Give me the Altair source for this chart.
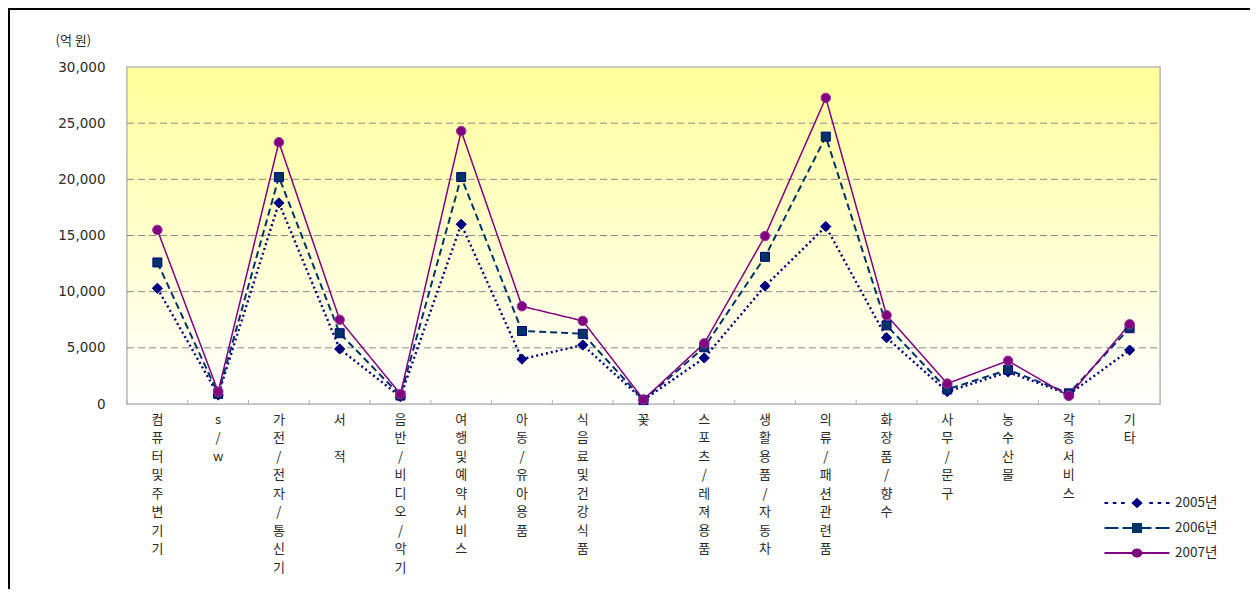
import altair as alt
import pandas as pd
import math

cats = ["컴퓨터및주변기기", "s/w", "가전/전자/통신기", "서 적", "음반/비디오/악기",
        "여행및예약서비스", "아동/유아용품", "식음료및건강식품", "꽃", "스포츠/레져용품",
        "생활용품/자동차", "의류/패션관련품", "화장품/향수", "사무/문구", "농수산물",
        "각종서비스", "기타"]
series = ["2005년", "2006년", "2007년"]
v2005 = [10300, 800, 17900, 4900, 650, 16000, 4000, 5250, 350, 4100, 10500, 15800, 5900, 1100, 2850, 850, 4800]
v2006 = [12600, 900, 20200, 6300, 750, 20200, 6500, 6250, 350, 5050, 13100, 23800, 7000, 1300, 3050, 950, 6750]
v2007 = [15500, 1100, 23300, 7500, 880, 24300, 8700, 7400, 400, 5400, 14950, 27250, 7900, 1820, 3850, 720, 7100]
y_ticks = [0, 5000, 10000, 15000, 20000, 25000, 30000]

rows = []
for s, vals in zip(series, [v2005, v2006, v2007]):
    for c, v in zip(cats, vals):
        rows.append({"cat": c, "series": s, "value": v})
df = pd.DataFrame(rows)
df_cats = pd.DataFrame({"cat": cats})
df_leg = pd.DataFrame({"series": series})
df_grid = pd.DataFrame({"value": y_ticks[1:-1]})

W, H = 1033, 337
PADL, PADT, PADR, PADB = 119, 59, 90, 185
FONT = "Noto Sans CJK KR"
TXT = "#2a2a2a"

line_colors = ["#000080", "#003366", "#800080"]
fill_colors = ["#000080", "#003366", "#800080"]
edge_colors = ["#000080", "#000080", "#993399"]
dashes = [[2, 3], [7, 4], [1, 0]]
widths = [2.4, 2.0, 1.5]
shapes = ["diamond", "square", "circle"]
sizes = [105, 81, 90]

# legend symbol paths (line + marker), unit = R px
R = 7.0
def seg(a, b):
    return f"M{a/R:.3f},0H{b/R:.3f}"
def poly(pts):
    return "M" + "L".join(f"{x/R:.3f},{y/R:.3f}" for x, y in pts) + "Z"
p2005 = "".join(seg(a, a + 3.6) for a in [-32.5, -24.2, -15.9, 12.3, 20.6, 28.9]) + \
    poly([(-4.2, 0), (0, -3.8), (4.2, 0), (0, 3.8)])
p2006 = seg(-32.5, -18.5) + seg(-14.5, -4) + seg(4, 14.5) + seg(18.5, 32.5) + \
    poly([(-4, -4), (4, -4), (4, 4), (-4, 4)])
p2007 = seg(-32.5, 32.5) + poly([(4.3 * math.cos(t * math.pi / 8), 3.6 * math.sin(t * math.pi / 8)) for t in range(16)])
leg_paths = [p2005, p2006, p2007]

xscale = alt.Scale(type="band", domain=cats, paddingInner=0, paddingOuter=0)
xaxis = alt.Axis(title=None, labelAngle=0,
                 labelExpr="split(replace(datum.label, ' ', '\u200b'), '')",
                 labelFont=FONT, labelFontSize=13, labelColor=TXT, labelLineHeight=18.5,
                 labelPadding=9, ticks=False, domain=False, grid=False, labelBaseline="top")
X = alt.X("cat:N", scale=xscale, sort=cats, bandPosition=0.5, axis=xaxis)
yscale = alt.Scale(domain=[0, 30000], nice=False)
yaxis = alt.Axis(title="(억 원)", titleAngle=0, titleAlign="left", titleBaseline="middle",
                 titleX=-72, titleY=-27, titleFont=FONT, titleFontSize=13,
                 titleFontWeight="normal", titleColor=TXT,
                 values=y_ticks, format=",.0f", labelFont="DejaVu Sans", labelFontSize=13.5,
                 labelColor=TXT, labelPadding=22, ticks=False, domain=False, grid=False)
Y = alt.Y("value:Q", scale=yscale, axis=yaxis)

gradient = alt.LinearGradient(gradient="linear", x1=0, x2=0, y1=0, y2=1,
                              stops=[alt.GradientStop(color="#ffff99", offset=0),
                                     alt.GradientStop(color="#ffffff", offset=1)])

layers = []
bg = alt.Chart(df_cats).mark_rect(fill=gradient, stroke="#c0c0c0", strokeWidth=1.5).encode(
    x=alt.value(0), x2=alt.value(W), y=alt.value(0), y2=alt.value(H))
layers.append(bg)

grid = alt.Chart(df_grid).mark_rule(color="#8a8a8a", strokeDash=[7, 4], strokeWidth=1).encode(
    y=alt.Y("value:Q", scale=yscale, axis=yaxis), x=alt.value(0), x2=alt.value(W))
layers.append(grid)

ticks = alt.Chart(df_cats).mark_rule(color="#b0b0b0", strokeWidth=1).encode(
    x=alt.X("cat:N", scale=xscale, sort=cats, bandPosition=0, axis=xaxis),
    y=alt.value(H - 4), y2=alt.value(H))
layers.append(ticks)

base = alt.Chart(df)
for i, s in enumerate(series):
    layers.append(base.transform_filter(alt.datum.series == s).mark_line(
        color=line_colors[i], strokeDash=dashes[i], strokeWidth=widths[i]).encode(x=X, y=Y))
for i, s in enumerate(series):
    layers.append(base.transform_filter(alt.datum.series == s).mark_point(
        shape=shapes[i], filled=True, fill=fill_colors[i], stroke=edge_colors[i],
        strokeWidth=1, size=sizes[i], opacity=1).encode(x=X, y=Y))

leg = alt.Legend(orient="none", legendX=1002, legendY=428, title=None, padding=0,
                 symbolSize=196, symbolStrokeWidth=2, symbolOpacity=1, labelOffset=30,
                 labelFont=FONT, labelFontSize=13.5, labelColor=TXT, rowPadding=9)
legend_layer = alt.Chart(df_leg).mark_point(opacity=0, filled=True).encode(
    shape=alt.Shape("series:N", scale=alt.Scale(domain=series, range=leg_paths), legend=leg),
    fill=alt.Fill("series:N", scale=alt.Scale(domain=series, range=fill_colors), legend=leg),
    stroke=alt.Stroke("series:N", scale=alt.Scale(domain=series, range=line_colors), legend=leg))
layers.append(legend_layer)

frame_top = alt.Chart(df_cats).mark_rule(color="#000000", strokeWidth=1.5).encode(
    x=alt.value(-PADL + 0.5), x2=alt.value(W + PADR), y=alt.value(-PADT + 1))
frame_left = alt.Chart(df_cats).mark_rule(color="#000000", strokeWidth=1.5).encode(
    x=alt.value(-PADL + 0.5), y=alt.value(-PADT + 1), y2=alt.value(H + PADB))
layers += [frame_top, frame_left]

chart = alt.layer(*layers).properties(
    width=W, height=H,
    autosize=alt.AutoSizeParams(type="none"),
    padding={"left": PADL, "top": PADT, "right": PADR, "bottom": PADB},
).configure_view(stroke="transparent").configure(background="white")

chart.save("out.html", embed_options={"renderer": "svg", "actions": False})
